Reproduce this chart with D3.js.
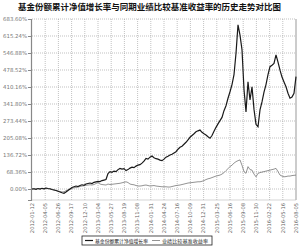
<!DOCTYPE html>
<html>
<head>
<meta charset="utf-8">
<script src="https://cdn.jsdelivr.net/npm/d3@7"></script>
<style>
  body { margin: 0; background: #fff; }
  svg { display: block; }
  .title { font-family: "Noto Sans CJK SC", sans-serif; font-weight: bold; font-size: 8.5px; fill: #111; }
  .ytick { font-family: "DejaVu Sans", sans-serif; font-size: 5.4px; fill: #777; }
  .xtick { font-family: "DejaVu Sans", sans-serif; font-size: 5.2px; fill: #666; }
  .legend-text { font-family: "Noto Sans CJK SC", sans-serif; font-size: 5px; fill: #222; }
</style>
</head>
<body>
<svg id="chart" width="300" height="247" viewBox="0 0 300 247"></svg>
<script>
const title = "基金份额累计净值增长率与同期业绩比较基准收益率的历史走势对比图";

const dateTicks = [
  "2012-01-12", "2012-04-05", "2012-06-26", "2012-09-17", "2012-12-10",
  "2013-03-04", "2013-05-27", "2013-08-19", "2013-11-08", "2014-01-31",
  "2014-04-24", "2014-07-16", "2014-10-09", "2014-12-31", "2015-03-25",
  "2015-06-16", "2015-09-08", "2015-11-30", "2016-02-22", "2016-05-16",
  "2016-08-05"
];

const yTicks = [0, 68.36, 136.72, 205.08, 273.44, 341.80, 410.16, 478.52, 546.88, 615.24, 683.60];

// fund cumulative NAV growth (%), sampled evenly over the period
const fundSeries = [
  0, 1, -1, 2, 0, 3, 1, 4, 2, 1,
  -2, -4, -6, -9, -12, -15, -17, -12, -6, 0,
  6, 9, 12, 10, 14, 17, 15, 20, 22, 24,
  22, 27, 29, 31, 30, 34, 36, 38, 62, 70,
  67, 72, 70, 78, 83, 80, 82, 74, 78, 84,
  88, 86, 92, 96, 98, 104, 112, 123, 120, 128,
  133, 126, 122, 120, 116, 114, 120, 128, 132, 137,
  140, 145, 150, 160, 168, 172, 180, 188, 198, 208,
  215, 222, 230, 234, 237, 228, 222, 217, 210, 204,
  215, 232, 248, 262, 275, 288, 315, 335, 365, 391,
  420, 460, 546, 660, 619, 560, 400, 310, 431, 358,
  411, 320, 260, 250, 318, 350, 390, 420, 460, 492,
  498, 505, 539, 510, 478, 450, 430, 411, 385, 365,
  370, 385, 452
];

// benchmark return (%), same sampling
const benchSeries = [
  0, 1, 0, 2, 1, 2, 0, 3, 1, 0,
  -2, -4, -6, -8, -10, -12, -11, -7, -3, 0,
  3, 5, 6, 8, 10, 12, 13, 15, 16, 17,
  16, 18, 22, 26, 20, 18, 17, 16, 20, 18,
  19, 20, 21, 22, 23, 25, 27, 29, 26, 20,
  18, 17, 14, 12, 12, 13, 15, 16, 14, 12,
  13, 14, 12, 11, 10, 9, 9, 9, 8, 8,
  10, 12, 14, 15, 16, 18, 20, 22, 24, 25,
  26, 27, 28, 29, 29, 31, 34, 38, 41, 43,
  46, 49, 52, 54, 56, 60, 66, 74, 82, 90,
  96, 104, 110, 114, 117, 95, 70, 63, 90, 78,
  76, 60, 49, 63, 66, 68, 70, 72, 74, 76,
  78, 80, 83, 70, 56, 52, 49, 50, 52, 52,
  54, 55, 56
];

const legendLabels = ["基金份额累计净值增长率", "业绩比较基准收益率"];

const svg = d3.select("#chart");

const plotLeft = 32, plotRight = 296, plotTop = 19, plotBottom = 200;

const x = d3.scaleLinear().domain([0, fundSeries.length - 1]).range([plotLeft, plotRight]);
const xTick = d3.scalePoint().domain(dateTicks).range([plotLeft, plotRight]);
const y = d3.scaleLinear().domain([-44.2, 683.6]).range([plotBottom, plotTop]);

svg.append("text")
  .attr("class", "title")
  .attr("x", 18).attr("y", 10)
  .attr("textLength", 263)
  .attr("lengthAdjust", "spacingAndGlyphs")
  .text(title);

// grid
const grid = svg.append("g");
grid.selectAll(".hgrid")
  .data(yTicks)
  .enter().append("line")
  .attr("x1", plotLeft).attr("x2", plotRight)
  .attr("y1", d => y(d)).attr("y2", d => y(d))
  .attr("stroke", "#999").attr("stroke-width", 0.6)
  .attr("stroke-dasharray", "1,1");

grid.selectAll(".vgrid")
  .data(dateTicks.slice(1, -1))
  .enter().append("line")
  .attr("x1", d => xTick(d)).attr("x2", d => xTick(d))
  .attr("y1", plotTop).attr("y2", plotBottom)
  .attr("stroke", "#999").attr("stroke-width", 0.6)
  .attr("stroke-dasharray", "1,1");

// y axis
const yAxis = d3.axisLeft(y)
  .tickValues(yTicks)
  .tickSize(3)
  .tickFormat(d => d.toFixed(2) + "%");

const yg = svg.append("g")
  .attr("transform", "translate(" + (plotLeft - 1) + ",0)")
  .call(yAxis);
yg.select(".domain").attr("stroke", "#888").attr("stroke-width", 1.2);
yg.selectAll(".tick line").attr("stroke", "#888");
yg.selectAll(".tick text").attr("class", "ytick").attr("x", -4).attr("fill", null);

// frame right & bottom
svg.append("line")
  .attr("x1", plotRight).attr("x2", plotRight).attr("y1", plotTop).attr("y2", plotBottom)
  .attr("stroke", "#999").attr("stroke-width", 1);
svg.append("line")
  .attr("x1", plotLeft).attr("x2", plotRight).attr("y1", plotBottom).attr("y2", plotBottom)
  .attr("stroke", "#bbb").attr("stroke-width", 0.6);

// x labels
svg.selectAll(".xlab")
  .data(dateTicks)
  .enter().append("text")
  .attr("class", "xtick")
  .attr("text-anchor", "end")
  .attr("transform", d => "translate(" + (xTick(d) + 1.8) + "," + (plotBottom + 3) + ") rotate(-90)")
  .text(d => d);

// lines
const line = d3.line()
  .x((d, i) => x(i))
  .y(d => y(d));

svg.append("path")
  .datum(benchSeries)
  .attr("d", line)
  .attr("fill", "none")
  .attr("stroke", "#777")
  .attr("stroke-width", 0.8);

svg.append("path")
  .datum(fundSeries)
  .attr("d", line)
  .attr("fill", "none")
  .attr("stroke", "#1a1a1a")
  .attr("stroke-width", 1.2);

// legend
const lg = svg.append("g").attr("transform", "translate(82,236)");
lg.append("rect")
  .attr("width", 130).attr("height", 9)
  .attr("fill", "#fff").attr("stroke", "#222").attr("stroke-width", 0.8);

const items = [
  { label: legendLabels[0], color: "#1a1a1a", w: 1.2, x0: 3, len: 53 },
  { label: legendLabels[1], color: "#777", w: 0.8, x0: 70, len: 46 }
];
items.forEach(it => {
  lg.append("line")
    .attr("x1", it.x0).attr("x2", it.x0 + 8)
    .attr("y1", 4.5).attr("y2", 4.5)
    .attr("stroke", it.color).attr("stroke-width", it.w);
  lg.append("text")
    .attr("class", "legend-text")
    .attr("x", it.x0 + 10).attr("y", 6.5)
    .attr("textLength", it.len)
    .attr("lengthAdjust", "spacingAndGlyphs")
    .text(it.label);
});
</script>
</body>
</html>
